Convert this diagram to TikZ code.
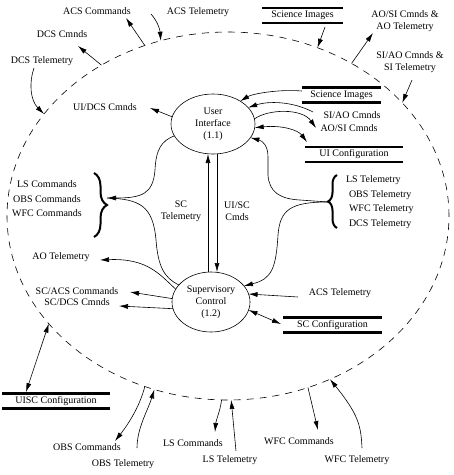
\documentclass[tikz,border=0pt]{standalone}
\usepackage{fontspec}
\setmainfont{Liberation Serif}
\usetikzlibrary{shapes.geometric,arrows.meta,decorations.pathreplacing}
\begin{document}
\begin{tikzpicture}[x=1pt,y=-1pt,
  every node/.style={font=\fontsize{10}{12}\selectfont, inner sep=0pt, outer sep=0pt},
  lbl/.style={align=center},
  proc/.style={draw, ellipse, line width=0.6pt, align=center},
  store/.style={minimum height=15pt},
  storeline/.style={line width=2.6pt},
  conn/.style={line width=0.6pt},
  arr/.style={conn, -{Latex[length=9pt,width=5pt]}},
  darr/.style={conn, {Latex[length=9pt,width=5pt]}-{Latex[length=9pt,width=5pt]}},
  brc/.style={decorate, decoration={brace, amplitude=#1}, line width=2pt}
]
\useasboundingbox (0,0) rectangle (454,475);

% system boundary
\node[draw, ellipse, dash pattern=on 7pt off 6pt, line width=0.6pt,
      minimum width=442pt, minimum height=368pt] (sys) at (228,216) {};

% processes
\node[proc, minimum width=84pt, minimum height=60pt] (ui) at (213,124) {User\\Interface\\(1.1)};
\node[proc, minimum width=78pt, minimum height=60pt] (sc) at (211,302) {Supervisory\\Control\\(1.2)};

% data stores
\node[store, minimum width=81pt] (si1) at (302.5,15.5) {Science Images};
\node[store, minimum width=79pt] (si2) at (341.5,95) {Science Images};
\node[store, minimum width=98pt] (uiconf) at (354,154.5) {UI Configuration};
\node[store, minimum width=99pt] (scconf) at (332.5,325) {SC Configuration};
\node[store, minimum width=108pt] (uiscconf) at (56,401) {UISC Configuration};
\foreach \s in {si1,si2,uiconf,scconf,uiscconf}{
  \draw[storeline] (\s.north west) -- (\s.north east) (\s.south west) -- (\s.south east);
}

% labels
\node (acsc) at (97,11) {ACS Commands};
\node (acst) at (198,12) {ACS Telemetry};
\node (dcsc) at (62,34) {DCS Cmnds};
\node (dcst) at (42,61) {DCS Telemetry};
\node (uidcs) at (105,107) {UI/DCS Cmnds};
\node[lbl] (aosi) at (405,21) {AO/SI Cmnds \&\\AO Telemetry};
\node[lbl] (siao) at (410,62) {SI/AO Cmnds \&\\SI Telemetry};
\node (siaoc) at (352,115) {SI/AO Cmnds};
\node (aosic) at (349,128) {AO/SI Cmnds};
\node[lbl, font=\fontsize{10}{14.5}\selectfont] (lcmds) at (47,199) {LS Commands\\OBS Commands\\WFC Commands};
\node[align=left, anchor=west, font=\fontsize{10}{14.6}\selectfont] (rtel) at (346,202) {LS Telemetry\\\hspace{3pt}OBS Telemetry\\\hspace{3pt}WFC Telemetry\\\hspace{3pt}DCS Telemetry};
\node[lbl] (sct) at (181,211) {SC\\Telemetry};
\node[lbl] (uisc) at (237,211) {UI/SC\\Cmds};
\node (aot) at (61,257) {AO Telemetry};
\node (scacs) at (77,291) {SC/ACS Commands};
\node (scdcs) at (77,302) {SC/DCS Cmnds};
\node (acst2) at (340,293) {ACS Telemetry};
\node (obsc) at (87,447) {OBS Commands};
\node (obst) at (123,464) {OBS Telemetry};
\node (lsc) at (193,443) {LS Commands};
\node (lst) at (230,460) {LS Telemetry};
\node (wfcc) at (299,441) {WFC Commands};
\node (wfct) at (357,460) {WFC Telemetry};

% braces
\draw[brc=13pt] (94,173) -- (94,237);
\draw[brc=9pt] (337,228) -- (337,175);
\coordinate (lbrace) at (107,198);
\coordinate (rbrace) at (328,202);

% connector end points
\coordinate (acscT) at (126,18);
\coordinate (acstS) at (151,14);
\coordinate (dcscT) at (78,46);
\coordinate (dcstS) at (34,68);
\coordinate (uidcsT) at (150,108);
\coordinate (si1S) at (325,27);
\coordinate (aosiT) at (373,33);
\coordinate (siaoS) at (412,80);
\coordinate (si2S) at (302,91);
\coordinate (siaocS) at (313,112);
\coordinate (aosicT) at (316,128);
\coordinate (uiconfT) at (307,142);
\coordinate (aotT) at (100,260);
\coordinate (scacsT) at (130,292);
\coordinate (scdcsT) at (119,306);
\coordinate (acst2S) at (298,297);
\coordinate (scconfT) at (281,324);
\coordinate (uiscT) at (26,392);
\coordinate (obscT) at (115,441);
\coordinate (obstS) at (137,448);
\coordinate (lscT) at (215,432);
\coordinate (lstS) at (236,451);
\coordinate (wfccT) at (318,430);
\coordinate (wfctS) at (362,448);

% connectors: outside world
\draw[arr] (sys.116.8) -- (acscT);
\draw[arr] (acstS) .. controls (158,22) and (160,30) .. (sys.111.1);
\draw[arr] (sys.130.1) -- (dcscT);
\draw[arr] (dcstS) .. controls (29,82) and (30,100) .. (sys.151.4);
\draw[arr] (si1S) -- (sys.62.8);
\draw[arr] (sys.51) -- (aosiT);
\draw[arr] (siaoS) -- (sys.33.7);
\draw[darr] (sys.211.3) -- (uiscT);
\draw[arr] (sys.244.5) .. controls (140,405) and (130,422) .. (obscT);
\draw[arr] (obstS) .. controls (137,428) and (148,410) .. (sys.247.4);
\draw[arr] (sys.268.4) .. controls (220,412) and (216,420) .. (lscT);
\draw[arr] (lstS) -- (sys.271.5);
\draw[arr] (sys.295.9) -- (wfccT);
\draw[arr] (wfctS) .. controls (361,425) and (358,414) .. (sys.302.8);

% connectors: user interface
\draw[arr] (ui.170) -- (uidcsT);
\draw[arr] (si2S) .. controls (278,89) and (252,94) .. (ui.40);
\draw[arr] (siaocS) .. controls (292,101) and (268,101) .. (ui.25);
\draw[arr] (ui.7) .. controls (268,109) and (302,108) .. (aosicT);
\draw[darr] (ui.355) .. controls (282,125) and (298,130) .. (uiconfT);
\draw[arr] (rbrace) -- (300,200) .. controls (280,199) and (269,192) .. (268,175) -- (268,157) .. controls (268,146) and (263,141) .. (ui.340);
\draw[arr] (ui.197) .. controls (161,141) and (156,150) .. (155,170) .. controls (153,194) and (142,198) .. (lbrace);
\draw[arr] ([xshift=-3pt]sc.north) -- ([xshift=-5pt]ui.south);
\draw[arr] ([xshift=4pt]ui.south) -- ([xshift=6pt]sc.north);

% connectors: supervisory control
\draw[conn] (sc.152) .. controls (164,278) and (158,266) .. (156,240) .. controls (153,206) and (140,199) .. (lbrace);
\draw[arr] (rbrace) .. controls (290,202) and (280,210) .. (278,235) .. controls (276,268) and (272,279) .. (sc.26);
\draw[arr] (sc.160) .. controls (160,275) and (148,258) .. (aotT);
\draw[arr] (sc.175) -- (scacsT);
\draw[arr] (sc.190) -- (scdcsT);
\draw[arr] (acst2S) -- (sc.12);
\draw[darr] (sc.348) -- (scconfT);
\end{tikzpicture}
\end{document}
